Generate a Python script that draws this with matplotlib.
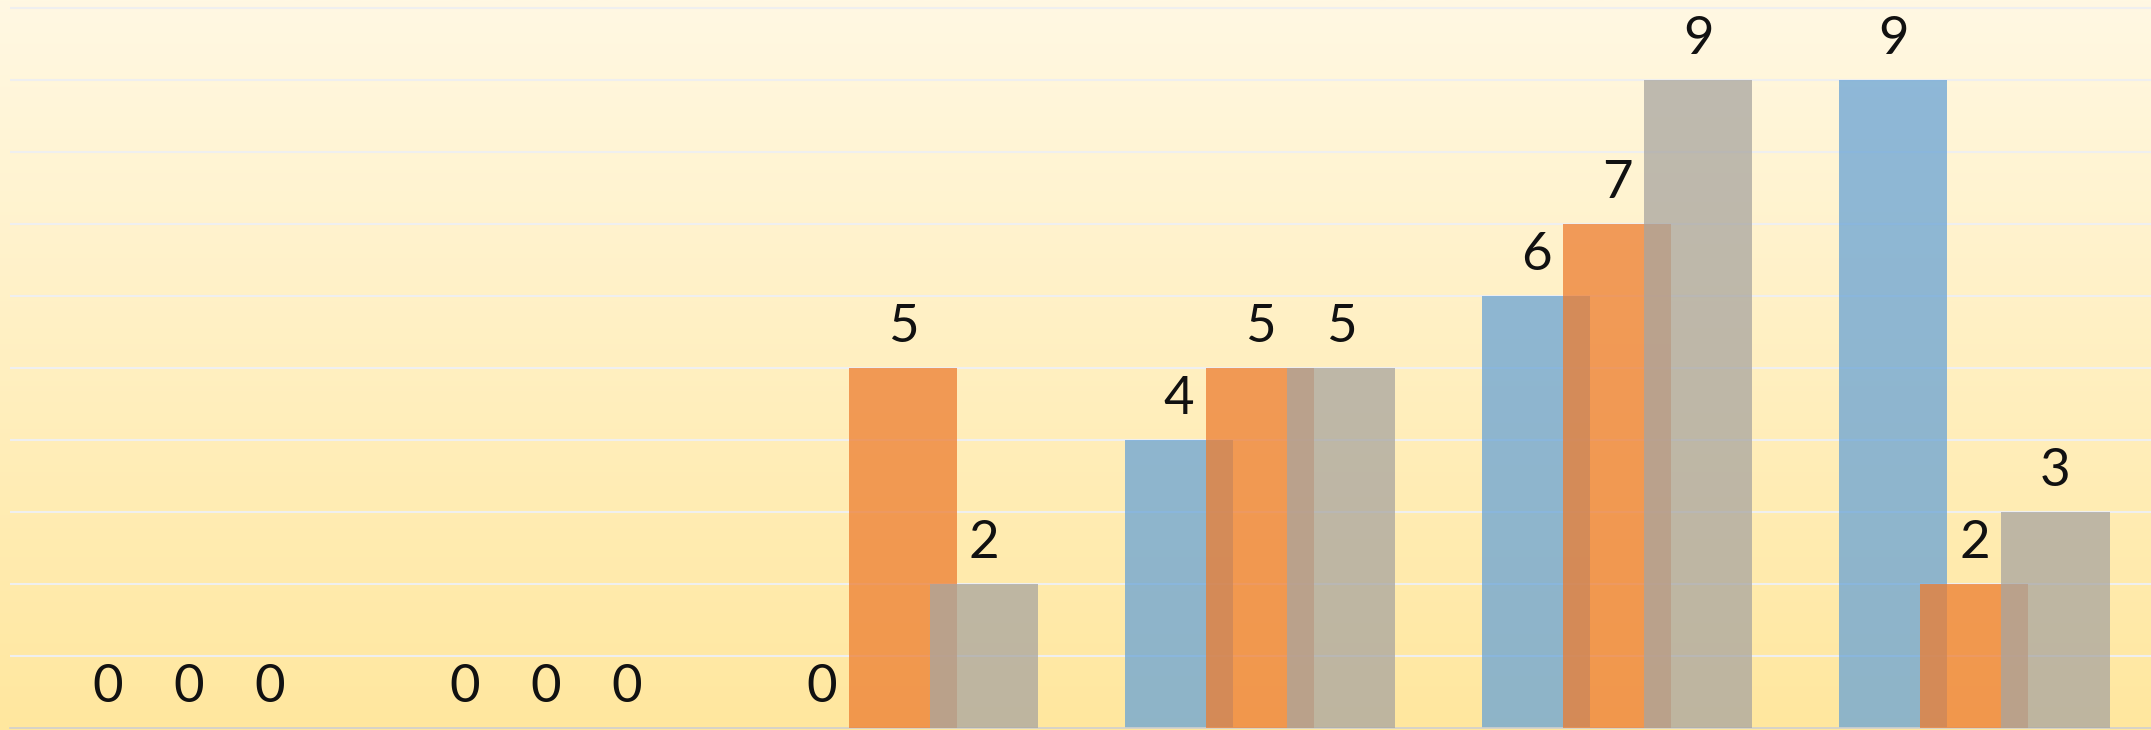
import matplotlib.pyplot as plt
import numpy as np
from matplotlib.colors import LinearSegmentedColormap

# six unlabelled groups, three series each
groups = np.arange(6)
series_1 = [0, 0, 0, 4, 6, 9]
series_2 = [0, 0, 5, 5, 7, 2]
series_3 = [0, 0, 2, 5, 9, 3]
colors = ['#68A3D6', '#ED7D31', '#A8A5A0']

fig = plt.figure(figsize=(21.51, 7.30), dpi=100)

# vertical cream-to-yellow gradient behind everything
bg = fig.add_axes([0, 0, 1, 1], zorder=0)
cmap = LinearSegmentedColormap.from_list('bg', ['#FFE79E', '#FFF8E3'])
bg.imshow(np.linspace(0, 1, 256).reshape(-1, 1), cmap=cmap, aspect='auto',
          origin='lower', extent=[0, 1, 0, 1])
bg.axis('off')

ax = fig.add_axes([10 / 2151, 2 / 730, 1 - 8 / 2151, 1 - 2 / 730], zorder=1)
ax.patch.set_alpha(0)

width = 0.3025
offset = 0.227
for i, vals in enumerate([series_1, series_2, series_3]):
    x = groups + (i - 1) * offset
    ax.bar(x, vals, width=width, color=colors[i], alpha=0.75, zorder=2 + i,
           linewidth=0)
    for xi, v in zip(x, vals):
        ax.annotate(str(v), (xi, v), xytext=(0, 26), textcoords='offset pixels',
                    ha='center', va='baseline', fontsize=38, family='Lato',
                    color='#111111', zorder=10)

ax.set_xlim(-0.5, 5.5)
ax.set_ylim(0, 10.11)
ax.set_yticks(np.arange(1, 11))
ax.yaxis.grid(True, color='#EFEFEF', linewidth=1.5, zorder=1)
ax.set_axisbelow(True)
ax.tick_params(left=False, bottom=False, labelleft=False, labelbottom=False)
for side in ['top', 'right', 'left']:
    ax.spines[side].set_visible(False)
ax.spines['bottom'].set_color('#D0D0D0')
ax.spines['bottom'].set_linewidth(1.2)

fig.savefig('out.png', dpi=100)
